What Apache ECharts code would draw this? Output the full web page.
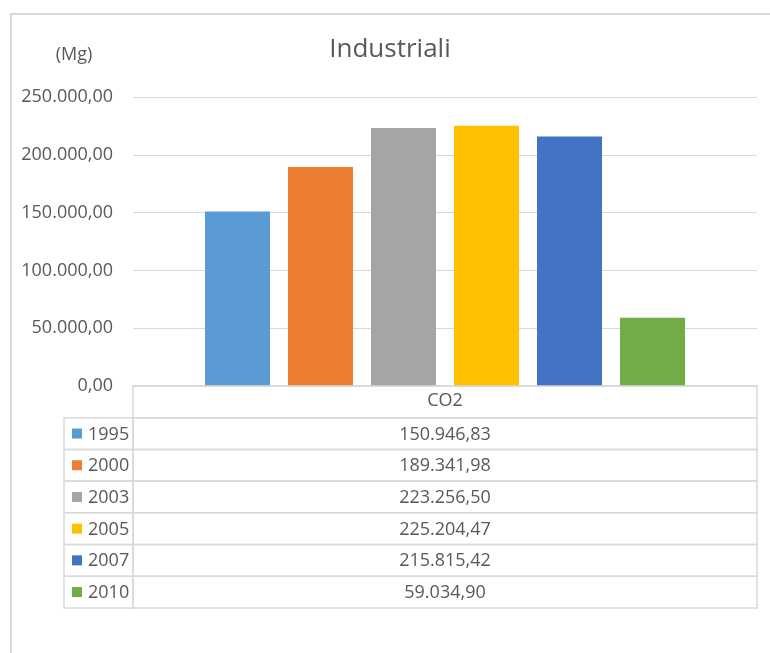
<!DOCTYPE html>
<html>
<head>
<meta charset="utf-8">
<script src="https://cdn.jsdelivr.net/npm/echarts@6/dist/echarts.min.js"></script>
<style>
html,body{margin:0;padding:0;background:#fff;}
#chart{width:770px;height:653px;}
</style>
</head>
<body>
<div id="chart"></div>
<script>
// ---- data ----
const categories = ['CO2'];
const years = ['1995', '2000', '2003', '2005', '2007', '2010'];
const values = [150946.83, 189341.98, 223256.50, 225204.47, 215815.42, 59034.90];
const colors = ['#5B9BD5', '#ED7D31', '#A5A5A5', '#FFC000', '#4472C4', '#70AD47'];
const yTicks = { min: 0, max: 250000, interval: 50000 };
const title = 'Industriali';
const unit = '(Mg)';

function fmtIt(v) {
  const neg = v < 0;
  v = Math.abs(v);
  const fixed = v.toFixed(2);
  let [intPart, dec] = fixed.split('.');
  intPart = intPart.replace(/\B(?=(\d{3})+(?!\d))/g, '.');
  return (neg ? '-' : '') + intPart + ',' + dec;
}

const FONT = '"Open Sans", "Noto Sans", sans-serif';
const TXT = '#595959';
const LINE = '#d9d9d9';
const FS = 18;

// table geometry
const tblLeft = 64, tblSplit = 133, tblRight = 757, tblTop = 386;
const rowH = 31.7;
const nRows = years.length;

const graphic = [];
// outer frame
graphic.push({ type: 'rect', shape: { x: 11, y: 14, width: 900, height: 900 },
  style: { fill: 'none', stroke: LINE, lineWidth: 2 }, silent: true });
// header cell
graphic.push({ type: 'rect', shape: { x: tblSplit, y: tblTop, width: tblRight - tblSplit, height: rowH },
  style: { fill: 'none', stroke: LINE, lineWidth: 1.5 }, silent: true, z: 5 });
for (let i = 0; i < nRows; i++) {
  const y = tblTop + rowH * (i + 1);
  const cy = y + rowH / 2;
  graphic.push({ type: 'rect', shape: { x: tblLeft, y: y, width: tblSplit - tblLeft, height: rowH },
    style: { fill: 'none', stroke: LINE, lineWidth: 1.5 }, silent: true, z: 5 });
  graphic.push({ type: 'rect', shape: { x: tblSplit, y: y, width: tblRight - tblSplit, height: rowH },
    style: { fill: 'none', stroke: LINE, lineWidth: 1.5 }, silent: true, z: 5 });
  // legend key
  graphic.push({ type: 'rect', shape: { x: 72, y: cy - 5, width: 10, height: 10 },
    style: { fill: colors[i] }, silent: true, z: 6 });
  graphic.push({ type: 'text', x: 88, y: cy + 1,
    style: { text: years[i], fill: TXT, font: FS + 'px ' + FONT, align: 'left', verticalAlign: 'middle' },
    silent: true, z: 6 });
  // value
  graphic.push({ type: 'text', x: (tblSplit + tblRight) / 2, y: cy + 1,
    style: { text: fmtIt(values[i]), fill: TXT, font: FS + 'px ' + FONT, align: 'center', verticalAlign: 'middle' },
    silent: true, z: 6 });
}

const series = years.map((yr, i) => ({
  name: yr,
  type: 'bar',
  data: [values[i]],
  itemStyle: { color: colors[i] },
  barWidth: 65,
  barGap: '27.7%',
  emphasis: { disabled: true }
}));

const chart = echarts.init(document.getElementById('chart'), null, { renderer: 'canvas' });
chart.setOption({
  animation: false,
  backgroundColor: '#fff',
  color: colors,
  title: [{
    text: title, left: 385, top: 32, textAlign: 'center',
    textStyle: { fontFamily: FONT, fontSize: 26, fontWeight: 'normal', color: TXT }
  }, {
    text: unit, left: 69, top: 41, textAlign: 'center',
    textStyle: { fontFamily: FONT, fontSize: FS, fontWeight: 'normal', color: TXT }
  }],
  legend: { show: false, data: years },
  grid: { left: 133, right: 13, top: 97, bottom: 653 - tblTop },
  xAxis: {
    type: 'category',
    data: categories,
    axisLine: { show: true, lineStyle: { color: LINE, width: 1.5 } },
    axisTick: { show: false },
    axisLabel: { fontFamily: FONT, fontSize: FS, color: TXT, margin: 6 }
  },
  yAxis: {
    type: 'value',
    min: yTicks.min, max: yTicks.max, interval: yTicks.interval,
    axisLine: { show: false },
    axisTick: { show: false },
    splitLine: { lineStyle: { color: LINE, width: 1 } },
    axisLabel: { fontFamily: FONT, fontSize: FS, color: TXT, margin: 20, formatter: v => fmtIt(v) }
  },
  graphic: graphic,
  series: series
});
</script>
</body>
</html>
